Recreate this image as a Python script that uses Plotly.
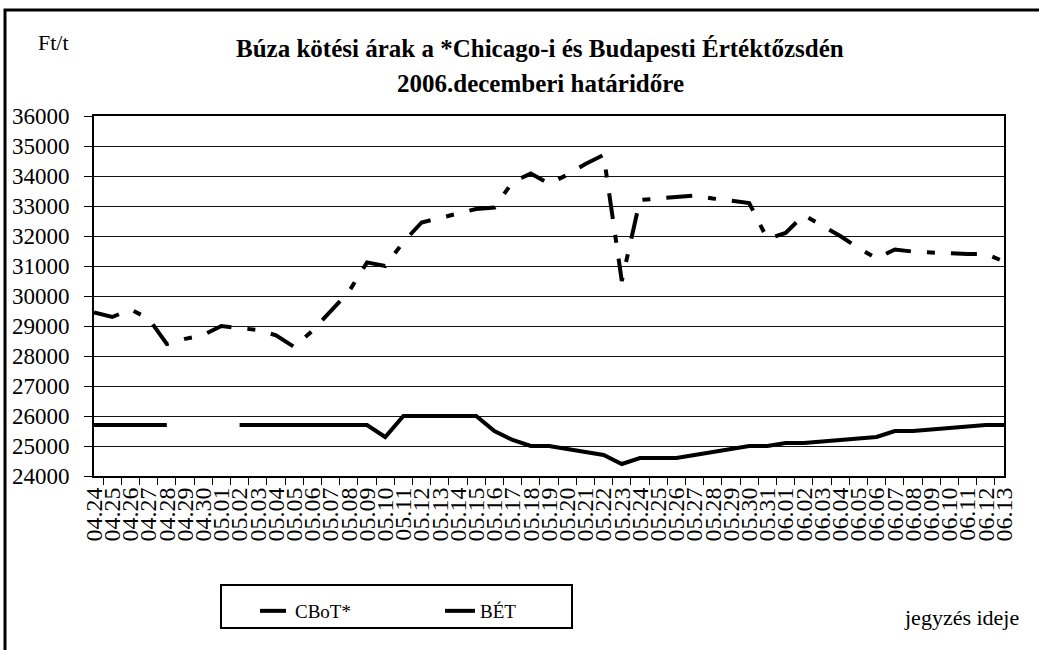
import plotly.graph_objects as go

dates = (["04.%02d" % d for d in range(24, 31)]
         + ["05.%02d" % d for d in range(1, 32)]
         + ["06.%02d" % d for d in range(1, 14)])

cbot = [29450, 29300, 29550, 29250, 28400, 28570, 28700, 29000, 28930, 28870,
        28690, 28300, 28840, 29490, 30140, 31120, 31000, 31800, 32450, 32600,
        32760, 32900, 32950, 33800, 34080, 33740, 34040, 34400, 34700, 30500,
        33200, 33250, 33300, 33350, 33250, 33180, 33100, 31900, 32100, 32700,
        32350, 32000, 31600, 31250, 31550, 31480, 31450, 31420, 31400, 31400,
        31150]

bet = [25700, 25700, 25700, 25700, 25700, None, None, None, 25700, 25700,
       25700, 25700, 25700, 25700, 25700, 25700, 25300, 26000, 26000, 26000,
       26000, 26000, 25500, 25200, 25000, 25000, 24900, 24800, 24700, 24400,
       24600, 24600, 24600, 24700, 24800, 24900, 25000, 25000, 25100, 25100,
       25150, 25200, 25250, 25300, 25500, 25500, 25550, 25600, 25650, 25700,
       25700]

y_ticks = list(range(24000, 36001, 1000))

SERIF = "Liberation Serif, Times New Roman, serif"

W, H = 1039, 650
L, R, T, B = 94, 35, 116, 174
PW, PH = W - L - R, H - T - B


def px(x):
    return (x - L) / PW


def py(y):
    return (H - B - y) / PH


fig = go.Figure()
fig.add_trace(go.Scatter(x=dates, y=cbot, name="CBoT*", mode="lines",
                         line=dict(color="black", width=4, dash="26px,16px,8px,16px")))
fig.add_trace(go.Scatter(x=dates, y=bet, name="BÉT", mode="lines",
                         line=dict(color="black", width=4), connectgaps=False))

fig.update_layout(
    width=W, height=H,
    margin=dict(l=L, r=R, t=T, b=B, pad=0),
    paper_bgcolor="white", plot_bgcolor="white",
    showlegend=True,
    legend=dict(orientation="h", xref="container", yref="container",
                x=255 / W, y=1 - 592 / H, xanchor="left", yanchor="top",
                font=dict(family=SERIF, size=19, color="black"),
                entrywidth=140, borderwidth=0, bgcolor="rgba(0,0,0,0)"),
    font=dict(family=SERIF, color="black"),
)

fig.update_xaxes(type="category", categoryarray=dates, tickangle=-90,
                 tickmode="linear", tick0=0, dtick=1,
                 tickson="boundaries", ticks="outside", ticklen=7, tickcolor="black",
                 tickwidth=1, showline=True, linecolor="black", linewidth=2, mirror=True,
                 showgrid=False,
                 tickfont=dict(family=SERIF, size=24, color="black"))
fig.update_yaxes(range=[24000, 36000], tickvals=y_ticks, ticktext=[str(v) for v in y_ticks],
                 ticks="outside", ticklen=8, tickcolor="black", tickwidth=1,
                 showline=True, linecolor="black", linewidth=2, mirror=True,
                 showgrid=True, gridcolor="#111", gridwidth=1, zeroline=False,
                 ticklabelstandoff=10,
                 tickfont=dict(family=SERIF, size=23, color="black"))

# title lines and labels
fig.add_annotation(x=px(540), y=py(48), xref="paper", yref="paper", showarrow=False,
                   xanchor="center", yanchor="middle",
                   text="<b>Búza kötési árak a *Chicago-i és Budapesti Értéktőzsdén</b>",
                   font=dict(family=SERIF, size=25, color="black"))
fig.add_annotation(x=px(540), y=py(83), xref="paper", yref="paper", showarrow=False,
                   xanchor="center", yanchor="middle",
                   text="<b>2006.decemberi határidőre</b>",
                   font=dict(family=SERIF, size=25, color="black"))
fig.add_annotation(x=px(53), y=py(42), xref="paper", yref="paper", showarrow=False,
                   xanchor="center", yanchor="middle",
                   text="Ft/t", font=dict(family=SERIF, size=22, color="black"))
fig.add_annotation(x=px(961), y=py(617), xref="paper", yref="paper", showarrow=False,
                   xanchor="center", yanchor="middle",
                   text="jegyzés ideje", font=dict(family=SERIF, size=22, color="black"))

# legend box and outer frame (right and bottom edges fall outside the page)
fig.add_shape(type="rect", xref="paper", yref="paper",
              x0=px(221), x1=px(572), y0=py(628), y1=py(585),
              line=dict(color="black", width=2), fillcolor="rgba(0,0,0,0)", layer="above")
fig.add_shape(type="rect", xref="paper", yref="paper",
              x0=px(5), x1=px(1060), y0=py(670), y1=py(10),
              line=dict(color="black", width=3), fillcolor="rgba(0,0,0,0)")

fig.write_html("out.html", config={"displayModeBar": False},
               post_script="document.body.style.margin='0';document.body.style.overflow='hidden';")
